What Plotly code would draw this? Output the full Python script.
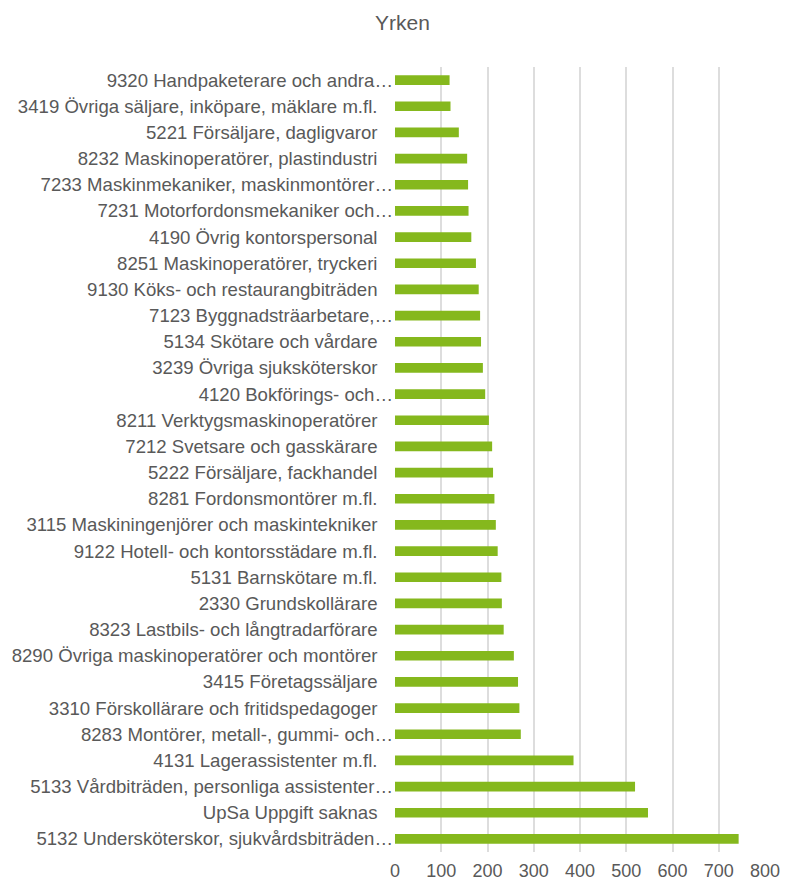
import plotly.graph_objects as go

categories = [
    "9320 Handpaketerare och andra…",
    "3419 Övriga säljare, inköpare, mäklare m.fl.",
    "5221 Försäljare, dagligvaror",
    "8232 Maskinoperatörer, plastindustri",
    "7233 Maskinmekaniker, maskinmontörer…",
    "7231 Motorfordonsmekaniker och…",
    "4190 Övrig kontorspersonal",
    "8251 Maskinoperatörer, tryckeri",
    "9130 Köks- och restaurangbiträden",
    "7123 Byggnadsträarbetare,…",
    "5134 Skötare och vårdare",
    "3239 Övriga sjuksköterskor",
    "4120 Bokförings- och…",
    "8211 Verktygsmaskinoperatörer",
    "7212 Svetsare och gasskärare",
    "5222 Försäljare, fackhandel",
    "8281 Fordonsmontörer m.fl.",
    "3115 Maskiningenjörer och maskintekniker",
    "9122 Hotell- och kontorsstädare m.fl.",
    "5131 Barnskötare m.fl.",
    "2330 Grundskollärare",
    "8323 Lastbils- och långtradarförare",
    "8290 Övriga maskinoperatörer och montörer",
    "3415 Företagssäljare",
    "3310 Förskollärare och fritidspedagoger",
    "8283 Montörer, metall-, gummi- och…",
    "4131 Lagerassistenter m.fl.",
    "5133 Vårdbiträden, personliga assistenter…",
    "UpSa Uppgift saknas",
    "5132 Undersköterskor, sjukvårdsbiträden…",
]
values = [118, 120, 138, 156, 158, 159, 165, 175, 181, 184, 186, 190, 195, 203, 210,
          212, 215, 218, 222, 230, 231, 235, 257, 266, 269, 272, 386, 519, 547, 743]
x_ticks = [0, 100, 200, 300, 400, 500, 600, 700, 800]

tick_text = [c if c.endswith("…") else c + "\u00a0\u00a0\u00a0" for c in categories]

fig = go.Figure(go.Bar(
    x=values, y=categories, orientation="h",
    marker=dict(color="#85B81D", line=dict(width=0)),
    width=0.37,
))
fig.update_layout(
    width=805, height=882,
    margin=dict(l=395, r=40, t=67, b=30, autoexpand=False),
    paper_bgcolor="white", plot_bgcolor="white",
    font=dict(family="Liberation Sans, Arial, sans-serif", color="#595959", size=18),
    title=dict(text="Yrken", x=0.5, xanchor="center", y=1 - 23 / 882, yanchor="middle",
               yref="container", font=dict(size=21, color="#595959")),
    showlegend=False,
)
fig.update_xaxes(range=[0, 800], tickvals=x_ticks, showgrid=True, gridcolor="#DDDDDD",
                 gridwidth=2, zeroline=False, showline=False, ticks="",
                 ticklabelstandoff=6,
                 tickfont=dict(size=18, color="#595959"))
fig.update_yaxes(autorange="reversed", tickmode="array", tickvals=categories, ticktext=tick_text,
                 showgrid=False, showline=False, ticks="", ticklabelstandoff=1,
                 tickfont=dict(size=18.6, color="#595959"))
fig.write_html("out.html", config={"displayModeBar": False},
               post_script="document.body.style.margin='0px';")
